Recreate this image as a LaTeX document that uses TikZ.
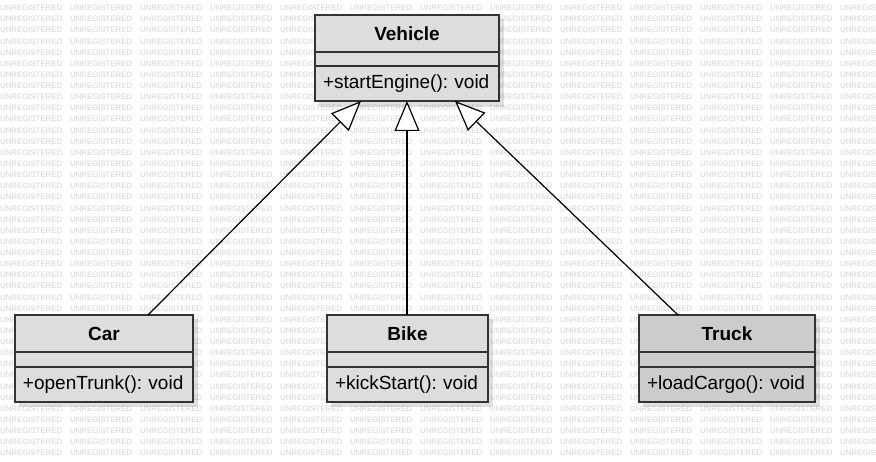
\documentclass[tikz,border=0pt]{standalone}
\usepackage{fontspec}
\setmainfont{Liberation Sans}
\frenchspacing
\usetikzlibrary{arrows.meta,positioning,shadows.blur}
\definecolor{boxfill}{HTML}{DDDDDD}
\definecolor{truckfill}{HTML}{CCCCCC}
\definecolor{boxline}{HTML}{333333}
\definecolor{wmgray}{HTML}{D4D4D4}
\tikzset{
  wm/.style={font=\fontsize{7.8}{8}\selectfont, text=wmgray, inner sep=0pt, anchor=west},
  part/.style={draw=boxline, line width=1.4pt, fill=#1, outer sep=0pt, inner sep=0pt},
  titlepart/.style={part=#1, font=\fontsize{19}{21}\bfseries},
  emptypart/.style={part=#1},
  methpart/.style={part=#1, font=\fontsize{19}{21}\selectfont, align=left, inner xsep=8pt},
  shadowbox/.style={fill=black, opacity=0.12},
  gen/.style={draw=black, line width=1.2pt, -{Triangle[open, length=30pt, width=25pt, fill=white]}}
}
\newcommand{\umlclass}[8]{%
  % #1 name, #2 cx, #3 top y, #4 width, #5 title, #6 method, #7 fill, #8 empty height
  \fill[shadowbox] (#2-#4/2+4, -#3-4) rectangle (#2+#4/2+5, -#3-87-5);
  \node[titlepart=#7, minimum width=#4pt, minimum height=37pt, anchor=north] (#1T) at (#2,-#3) {#5};
  \node[emptypart=#7, minimum width=#4pt, minimum height=#8pt, below=0pt of #1T] (#1E) {};
  \node[methpart=#7, text width=#4pt-16pt, minimum height=35pt, below=0pt of #1E] (#1M) {#6};
}
\begin{document}
\begin{tikzpicture}[x=1pt,y=1pt]
\useasboundingbox (0,0) rectangle (876,-462);
\fill[white] (0,0) rectangle (876,-462);
\foreach \i in {0,...,40} {
  \foreach \j in {0,...,12} {
    \pgfmathsetmacro\wx{70*\j}
    \pgfmathsetmacro\wy{8+11.13*\i}
    \pgfmathtruncatemacro\hide{((\wx>=315) && (\wx+62<=499) && (\wy-3>=15) && (\wy+3<=101))
      || ((\wx>=15) && (\wx+62<=193) && (\wy-3>=315) && (\wy+3<=402))
      || ((\wx>=327) && (\wx+62<=488) && (\wy-3>=315) && (\wy+3<=402))
      || ((\wx>=639) && (\wx+62<=815) && (\wy-3>=315) && (\wy+3<=402))}
    \ifnum\hide=0
      \node[wm] (wm-\i-\j) at (\wx, -\wy) {UNREGISTERED};
    \fi
  }
}
\umlclass{veh}{407}{15}{184}{Vehicle}{+startEngine(): void}{boxfill}{14}
\umlclass{car}{104}{315}{178}{Car}{+openTrunk(): void}{boxfill}{15}
\umlclass{bike}{407.5}{315}{161}{Bike}{+kickStart(): void}{boxfill}{15}
\umlclass{truck}{727}{315}{176}{Truck}{+loadCargo(): void}{truckfill}{15}
\coordinate (tipCar) at ([xshift=-46pt]vehM.south);
\coordinate (tipBike) at (vehM.south);
\coordinate (tipTruck) at ([xshift=48pt]vehM.south);
\coordinate (srcCar) at ([xshift=44pt]carT.north);
\coordinate (srcBike) at ([xshift=-0.5pt]bikeT.north);
\coordinate (srcTruck) at ([xshift=-49pt]truckT.north);
\draw[gen] (srcCar) -- (tipCar);
\draw[gen] (srcBike) -- (tipBike);
\draw[gen] (srcTruck) -- (tipTruck);
\end{tikzpicture}
\end{document}
